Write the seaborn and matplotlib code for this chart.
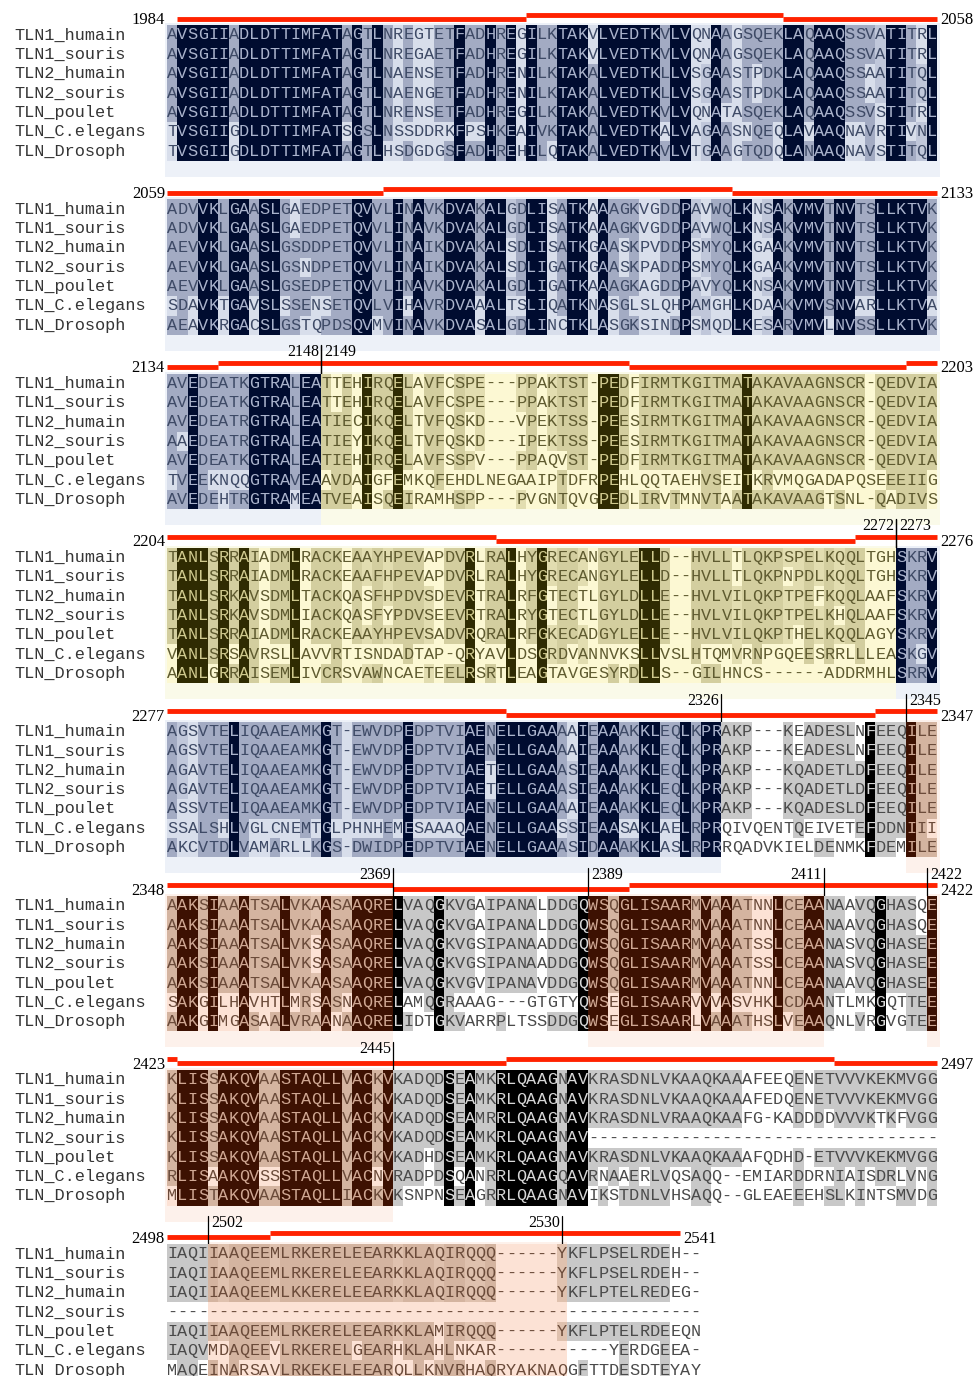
import numpy as np
import matplotlib
matplotlib.use("Agg")
import matplotlib.pyplot as plt
from matplotlib.colors import ListedColormap
from matplotlib.patches import Rectangle
import seaborn as sns

# ---------------------------------------------------------------- data
species = ["TLN1_humain", "TLN1_souris", "TLN2_humain", "TLN2_souris",
           "TLN_poulet", "TLN_C.elegans", "TLN_Drosoph"]

block_start = [1984, 2059, 2134, 2204, 2277, 2348, 2423, 2498]

block1 = [
    "AVSGIIADLDTTIMFATAGTLNREGTETFADHREGILKTAKVLVEDTKVLVQNAAGSQEKLAQAAQSSVATITRL",
    "AVSGIIADLDTTIMFATAGTLNREGAETFADHREGILKTAKVLVEDTKVLVQNAAGSQEKLAQAAQSSVATITRL",
    "AVSGIIADLDTTIMFATAGTLNAENSETFADHRENILKTAKALVEDTKLLVSGAASTPDKLAQAAQSSAATITQL",
    "AVSGIIADLDTTIMFATAGTLNAENGETFADHRENILKTAKALVEDTKLLVSGAASTPDKLAQAAQSSAATITQL",
    "AVSGIIADLDTTIMFATAGTLNRENSETFADHREGILKTAKALVEDTKVLVQNATASQEKLAQAAQSSVSTITRL",
    "TVSGIIGDLDTTIMFATSGSLNSSDDRKFPSHKEAIVKTAKALVEDTKALVAGAASNQEQLAVAAQNAVRTIVNL",
    "TVSGIIGDLDTTIMFATAGTLHSDGDGSFADHREHILQTAKALVEDTKVLVTGAAGTQDQLANAAQNAVSTITQL",
]
block2 = [
    "ADVVKLGAASLGAEDPETQVVLINAVKDVAKALGDLISATKAAAGKVGDDPAVWQLKNSAKVMVTNVTSLLKTVK",
    "ADVVKLGAASLGAEDPETQVVLINAVKDVAKALGDLISATKAAAGKVGDDPAVWQLKNSAKVMVTNVTSLLKTVK",
    "AEVVKLGAASLGSDDPETQVVLINAIKDVAKALSDLISATKGAASKPVDDPSMYQLKGAAKVMVTNVTSLLKTVK",
    "AEVVKLGAASLGSNDPETQVVLINAIKDVAKALSDLIGATKGAASKPADDPSMYQLKGAAKVMVTNVTSLLKTVK",
    "AEVVKLGAASLGSEDPETQVVLINAVKDVAKALGDLIGATKAAAGKAGDDPAVYQLKNSAKVMVTNVTSLLKTVK",
    "SDAVKTGAVSLSSENSETQVLVIHAVRDVAAALTSLIQATKNASGLSLQHPAMGHLKDAAKVMVSNVARLLKTVA",
    "AEAVKRGACSLGSTQPDSQVMVINAVKDVASALGDLINCTKLASGKSINDPSMQDLKESARVMVLNVSSLLKTVK",
]
block3 = [
    "AVEDEATKGTRALEATTEHIRQELAVFCSPE---PPAKTST-PEDFIRMTKGITMATAKAVAAGNSCR-QEDVIA",
    "AVEDEATKGTRALEATTEHIRQELAVFCSPE---PPAKTST-PEDFIRMTKGITMATAKAVAAGNSCR-QEDVIA",
    "AVEDEATRGTRALEATIECIKQELTVFQSKD---VPEKTSS-PEESIRMTKGITMATAKAVAAGNSCR-QEDVIA",
    "AAEDEATRGTRALEATIEYIKQELTVFQSKD---IPEKTSS-PEESIRMTKGITMATAKAVAAGNSCR-QEDVIA",
    "AVEDEATKGTRALEATIEHIRQELAVFSSPV---PPAQVST-PEDFIRMTKGITMATAKAVAAGNSCR-QEDVIA",
    "TVEEKNQQGTRAVEAAVDAIGFEMKQFEHDLNEGAAIPTDFRPEHLQQTAEHVSEITKRVMQGADAPQSEEEIIG",
    "AVEDEHTRGTRAMEATVEAISQEIRAMHSPP---PVGNTQVGPEDLIRVTMNVTAATAKAVAAGTSNL-QADIVS",
]
block4 = [
    "TANLSRRAIADMLRACKEAAYHPEVAPDVRLRALHYGRECANGYLELLD--HVLLTLQKPSPELKQQLTGHSKRV",
    "TANLSRRAIADMLRACKEAAFHPEVAPDVRLRALHYGRECANGYLELLD--HVLLTLQKPNPDLKQQLTGHSKRV",
    "TANLSRKAVSDMLTACKQASFHPDVSDEVRTRALRFGTECTLGYLDLLE--HVLVILQKPTPEFKQQLAAFSKRV",
    "TANLSRKAVSDMLIACKQASFYPDVSEEVRTRALRYGTECTLGYLDLLE--HVLVILQKPTPELKHQLAAFSKRV",
    "TANLSRRAIADMLRACKEAAYHPEVSADVRQRALRFGKECADGYLELLE--HVLVILQKPTHELKQQLAGYSKRV",
    "VANLSRSAVRSLLAVVRTISNDADTAP-QRYAVLDSGRDVANNVKSLLVSLHTQMVRNPGQEESRRLLLEASKGV",
    "AANLGRRAISEMLIVCRSVAWNCAETEELRSRTLEAGTAVGESYRDLLS--GILHNCS------ADDRMHLSRRV",
]
block5 = [
    "AGSVTELIQAAEAMKGT-EWVDPEDPTVIAENELLGAAAAIEAAAKKLEQLKPRAKP---KEADESLNFEEQILE",
    "AGSVTELIQAAEAMKGT-EWVDPEDPTVIAENELLGAAAAIEAAAKKLEQLKPRAKP---KEADESLNFEEQILE",
    "AGAVTELIQAAEAMKGT-EWVDPEDPTVIAETELLGAAASIEAAAKKLEQLKPRAKP---KQADETLDFEEQILE",
    "AGAVTELIQAAEAMKGT-EWVDPEDPTVIAETELLGAAASIEAAAKKLEQLKPRAKP---KQADETLDFEEQILE",
    "ASSVTELIQAAEAMKGT-EWVDPEDPTVIAENELLGAAAAIEAAAKKLEQLKPRAKP---KQADESLDFEEQILE",
    "SSALSHLVGLCNEMTGLPHNHEMESAAAQAENELLGAASSIEAASAKLAELRPRQIVQENTQEIVETEFDDNIII",
    "AKCVTDLVAMARLLKGS-DWIDPEDPTVIAENELLGAAASIDAAAKKLASLRPRRQADVKIELDENMKFDEMILE",
]
block6 = [
    "AAKSIAAATSALVKAASAAQRELVAQGKVGAIPANALDDGQWSQGLISAARMVAAATNNLCEAANAAVQGHASQE",
    "AAKSIAAATSALVKAASAAQRELVAQGKVGAIPANALDDGQWSQGLISAARMVAAATNNLCEAANAAVQGHASQE",
    "AAKSIAAATSALVKSASAAQRELVAQGKVGSIPANAADDGQWSQGLISAARMVAAATSSLCEAANASVQGHASEE",
    "AAKSIAAATSALVKSASAAQRELVAQGKVGSIPANAADDGQWSQGLISAARMVAAATSSLCEAANASVQGHASEE",
    "AAKSIAAATSALVKAASAAQRELVAQGKVGVIPANAVDDGQWSQGLISAARMVAAATNNLCEAANAAVQGHASEE",
    "SAKGILHAVHTLMRSASNAQRELAMQGRAAAG---GTGTYQWSEGLISAARVVVASVHKLCDAANTLMKGQTTEE",
    "AAKGIMGASAALVRAANAAQRELIDTGKVARRPLTSSDDGQWSEGLISAARLVAAATHSLVEAAQNLVRGVGTEE",
]
block7 = [
    "KLISSAKQVAASTAQLLVACKVKADQDSEAMKRLQAAGNAVKRASDNLVKAAQKAAAFEEQENETVVVKEKMVGG",
    "KLISSAKQVAASTAQLLVACKVKADQDSEAMKRLQAAGNAVKRASDNLVKAAQKAAAFEDQENETVVVKEKMVGG",
    "KLISSAKQVAASTAQLLVACKVKADQDSEAMRRLQAAGNAVKRASDNLVRAAQKAAFG-KADDDDVVVKTKFVGG",
    "KLISSAKQVAASTAQLLVACKVKADQDSEAMKRLQAAGNAV----------------------------------",
    "KLISSAKQVAASTAQLLVACKVKADHDSEAMKRLQAAGNAVKRASDNLVKAAQKAAAFQDHD-ETVVVKEKMVGG",
    "RLISAAKQVSSSTAQLLVACNVRADPDSQANRRLQAAGQAVRNAAERLVQSAQQ--EMIARDDRNIAISDRLVNG",
    "MLISTAKQVAASTAQLLIACKVKSNPNSEAGRRLQAAGNAVIKSTDNLVHSAQQ--GLEAEEEHSLKINTSMVDG",
]
block8 = [
    "IAQIIAAQEEMLRKERELEEARKKLAQIRQQQ------YKFLPSELRDEH--",
    "IAQIIAAQEEMLRKERELEEARKKLAQIRQQQ------YKFLPSELRDEH--",
    "IAQIIAAQEEMLKKERELEEARKKLAQIRQQQ------YKFLPTELREDEG-",
    "----------------------------------------------------",
    "IAQIIAAQEEMLRKERELEEARKKLAMIRQQQ------YKFLPTELRDEEQN",
    "IAQVMDAQEEVLRKERELGEARHKLAHLNKAR-----------YERDGEEA-",
    "MAQEINARSAVLRKEKELEEARQLLKNVRHAQRYAKNAQGFTTDESDTEYAY",
]
blocks = [block1, block2, block3, block4, block5, block6, block7, block8]

# domain shading, TLN1_humain numbering
domain_first = [1984, 2149, 2273, 2330, 2345, 2370, 2389, 2412, 2422, 2445, 2502, 2531]
domain_last = [2148, 2272, 2329, 2344, 2369, 2388, 2411, 2421, 2444, 2501, 2530, 2541]
domain_theme = ["blue", "yellow", "blue", "gray", "brown", "gray", "brown",
                "gray", "brown", "gray", "brown", "gray"]

# helices (red bars), TLN1_humain numbering
helix_first = [1985, 2019, 2044, 2080, 2114, 2139, 2175, 2201, 2236, 2269,
               2309, 2342, 2370, 2393, 2424, 2456, 2488, 2508]
helix_last = [2018, 2043, 2079, 2113, 2138, 2174, 2200, 2235, 2268, 2308,
              2341, 2369, 2392, 2423, 2455, 2487, 2507, 2541]

# boundary markers per block: (column boundary, label, side of label)
markers = [
    [], [],
    [(15, "2148", "right"), (15, "2149", "left")],
    [(71, "2272", "right"), (71, "2273", "left")],
    [(54, "2326", "right"), (72, "2345", "left")],
    [(22, "2369", "right"), (41, "2389", "left"), (64, "2411", "right"), (74, "2422", "left")],
    [(22, "2445", "right")],
    [(4, "2502", "left"), (38.5, "2530", "right")],
]

# similarity groups used for the conservation shading
sim_groups = ["DE", "NQ", "ST", "KR", "FYW", "ILV"]

# ---------------------------------------------------------------- styling
theme_names = ["blue", "yellow", "brown", "gray"]
cell_colors = {
    "blue":   ["#d8deeb", "#c0c7da", "#a3abc3", "#000c30"],
    "yellow": ["#fcf8d3", "#e2ddb0", "#d3ce9f", "#2f2b02"],
    "brown":  ["#fce2d5", "#dfc1ae", "#d4b4a0", "#3d1102"],
    "gray":   ["#ffffff", "#c8c8c8", "#c8c8c8", "#000000"],
}
text_colors = {
    "blue": ("#3e4a66", "#aab3cc"),
    "yellow": ("#5f5b30", "#cfc98e"),
    "brown": ("#6b4b3a", "#cfa793"),
    "gray": ("#4a4a4a", "#d8d8d8"),
}
panel_colors = {"blue": "#edf1f8", "yellow": "#fafae9", "brown": "#fdf1eb", "gray": None}

W, H = 975, 1376
X0 = 167.0          # left edge of first alignment column (px)
CW = 10.267         # column width (px)
ROW1 = 35.0         # centre of first row of first block (px)
PITCH = 174.14      # distance between blocks (px)
RH = 19.35          # row height (px)
MONO = "Liberation Mono"
SERIF = "Liberation Serif"
RED = "#ff2200"

sns.set_theme(style="white")
plt.rcParams["font.family"] = ["DejaVu Sans"]


def group_of(c):
    for g in sim_groups:
        if c in g:
            return g
    return c


def shade_levels(rows):
    nseq, ncol = len(rows), len(rows[0])
    lv = np.zeros((nseq, ncol), dtype=int)
    for j in range(ncol):
        col = [r[j] for r in rows]
        res = [c for c in col if c != "-"]
        if not res:
            continue
        if len(res) == nseq and len(set(res)) == 1:
            lv[:, j] = 3
            continue
        groups = [group_of(c) for c in res]
        best = max(set(groups), key=lambda g: (groups.count(g),
                                               max(res.count(c) for c in res if group_of(c) == g)))
        n = groups.count(best)
        level = 2 if n >= 5 else (1 if n >= 4 else 0)
        for i, c in enumerate(col):
            if c != "-" and group_of(c) == best:
                lv[i, j] = level
    return lv


def column_residues(ref, start):
    nums, k = [], start - 1
    for c in ref:
        if c != "-":
            k += 1
        nums.append(max(k, start))
    return nums


def theme_of(num):
    for a, b, t in zip(domain_first, domain_last, domain_theme):
        if a <= num <= b:
            return t
    return "gray"


palette = []
for t in theme_names:
    palette += cell_colors[t]
cmap = ListedColormap(palette)

fig = plt.figure(figsize=(W / 100, H / 100), dpi=100)
bg = fig.add_axes([0, 0, 1, 1])
bg.set_xlim(0, W)
bg.set_ylim(H, 0)
bg.axis("off")

for b, rows in enumerate(blocks):
    yc = ROW1 + b * PITCH
    top = yc - RH / 2
    bottom = top + 7 * RH
    ncol = len(rows[0])
    ref = rows[0]
    nums = column_residues(ref, block_start[b])
    themes = [theme_of(n) for n in nums]

    # light domain panels behind the alignment
    j = 0
    while j < ncol:
        k = j
        while k + 1 < ncol and themes[k + 1] == themes[j]:
            k += 1
        pc = panel_colors[themes[j]]
        if pc:
            xa = X0 + j * CW - (2 if j == 0 else 0)
            xb = X0 + (k + 1) * CW + (3 if k == ncol - 1 else 0)
            bg.add_patch(Rectangle((xa, top - 2), xb - xa, 7 * RH + 18,
                                   facecolor=pc, edgecolor="none", zorder=0))
        j = k + 1

    # helix bars
    for h, (hs, he) in enumerate(zip(helix_first, helix_last)):
        cols = [c for c in range(ncol) if ref[c] != "-" and hs <= nums[c] <= he]
        if not cols:
            continue
        xa, xb = X0 + cols[0] * CW, X0 + (cols[-1] + 1) * CW
        y = yc - (20.5 if h % 2 else 16.5)
        bg.plot([xa, xb], [y, y], color=RED, lw=3.5, solid_capstyle="butt", zorder=3)

    # block numbering
    last_res = max(c for c in range(ncol) if ref[c] != "-")
    bg.text(165, yc - 15, str(block_start[b]), ha="right", va="center",
            family=SERIF, fontsize=12, color="black")
    bg.text(X0 + (last_res + 1) * CW + 3, yc - 15, str(nums[last_res]), ha="left",
            va="center", family=SERIF, fontsize=12, color="black")

    # boundary markers
    for bc, lab, side in markers[b]:
        x = X0 + bc * CW
        bg.plot([x, x], [yc - 38, top], color="black", lw=0.9, zorder=4)
        if side == "right":
            bg.text(x - 2, yc - 31, lab, ha="right", va="center", family=SERIF,
                    fontsize=11.5, color="black")
        else:
            bg.text(x + 3, yc - 31, lab, ha="left", va="center", family=SERIF,
                    fontsize=11.5, color="black")

    # species names
    for i, name in enumerate(species):
        bg.text(14, yc + i * RH, name, ha="left", va="center", family=MONO,
                fontsize=12.2, color="#353535")

    # shaded alignment
    levels = shade_levels(rows)
    tidx = np.array([theme_names.index(t) for t in themes])
    codes = tidx[None, :] * 4 + levels
    letters = np.array([list(r) for r in rows])
    ax = fig.add_axes([X0 / W, 1 - bottom / H, ncol * CW / W, 7 * RH / H])
    sns.heatmap(codes, ax=ax, cmap=cmap, vmin=-0.5, vmax=len(palette) - 0.5,
                cbar=False, annot=letters, fmt="", linewidths=0,
                xticklabels=False, yticklabels=False,
                annot_kws={"family": MONO, "fontsize": 12.2})
    ax.patch.set_visible(False)
    for t in ax.texts:
        x, y = t.get_position()
        jj, ii = int(x), int(y)
        normal, dark = text_colors[themes[jj]]
        t.set_color(dark if levels[ii, jj] == 3 else normal)

fig.savefig("out.png", dpi=100)
